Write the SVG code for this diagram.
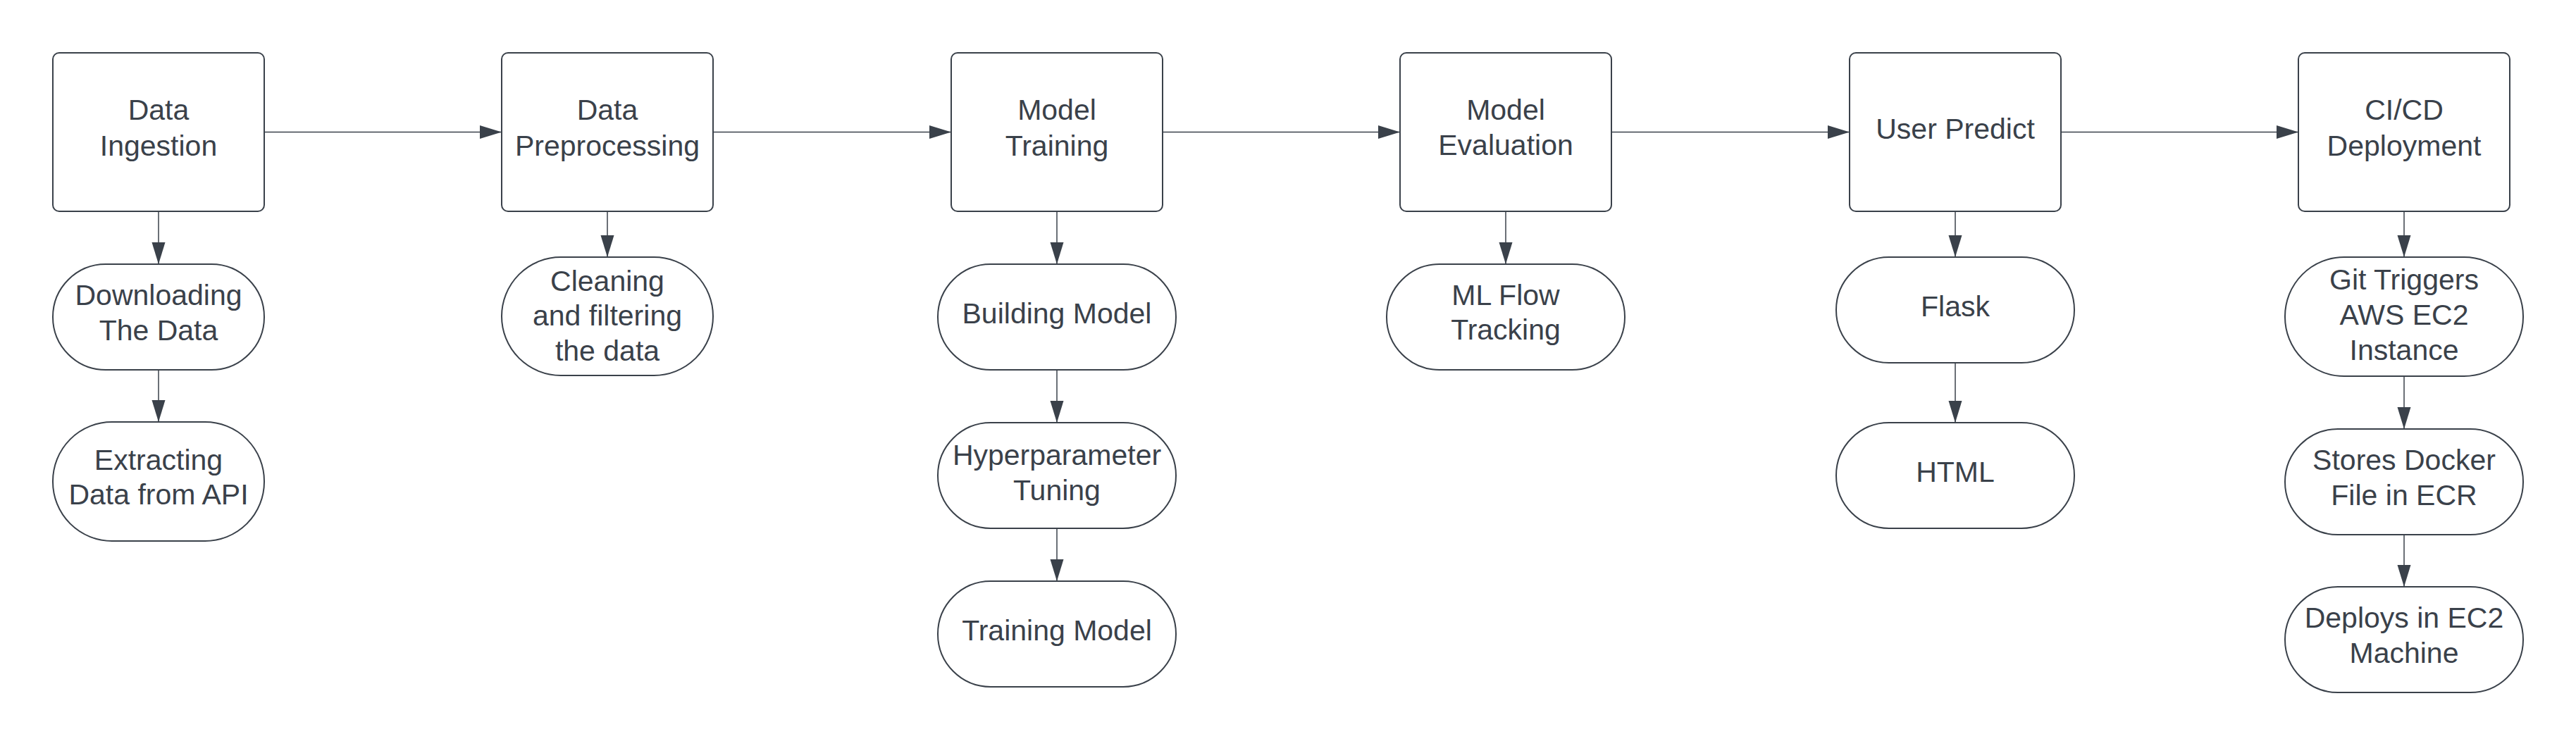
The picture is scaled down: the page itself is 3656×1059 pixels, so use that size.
<svg xmlns="http://www.w3.org/2000/svg" width="3656" height="1059" viewBox="0 0 3656 1059">
<style>
.box{fill:#ffffff;stroke:#3a414a;stroke-width:2}
.pill{fill:#ffffff;stroke:#3a414a;stroke-width:2}
.t{font-family:"Liberation Sans",Arial,sans-serif;font-size:41px;fill:#3a414a;text-anchor:middle}
.c{stroke:#3a414a;stroke-width:1.5;fill:none;marker-end:url(#ah)}
</style>
<defs>
<marker id="ah" markerUnits="userSpaceOnUse" markerWidth="32" markerHeight="20" refX="31" refY="9.5" orient="auto">
<path d="M0,0 L31,9.5 L0,19 Z" fill="#3a414a"/>
</marker>
</defs>
<rect width="3656" height="1059" fill="#ffffff"/>
<g id="connectors">
<line class="c" x1="375" y1="187.5" x2="712" y2="187.5"/>
<line class="c" x1="1012" y1="187.5" x2="1350" y2="187.5"/>
<line class="c" x1="1650" y1="187.5" x2="1987" y2="187.5"/>
<line class="c" x1="2287" y1="187.5" x2="2625" y2="187.5"/>
<line class="c" x1="2925" y1="187.5" x2="3262" y2="187.5"/>
<line class="c" x1="225" y1="300" x2="225" y2="375"/>
<line class="c" x1="225" y1="525" x2="225" y2="599"/>
<line class="c" x1="862" y1="300" x2="862" y2="365"/>
<line class="c" x1="1500" y1="300" x2="1500" y2="375"/>
<line class="c" x1="1500" y1="525" x2="1500" y2="600"/>
<line class="c" x1="1500" y1="750" x2="1500" y2="825"/>
<line class="c" x1="2137" y1="300" x2="2137" y2="375"/>
<line class="c" x1="2775" y1="300" x2="2775" y2="365"/>
<line class="c" x1="2775" y1="515" x2="2775" y2="600"/>
<line class="c" x1="3412" y1="300" x2="3412" y2="365"/>
<line class="c" x1="3412" y1="534" x2="3412" y2="609"/>
<line class="c" x1="3412" y1="759" x2="3412" y2="833"/>
</g>
<g id="data-ingestion">
<rect class="box" x="75" y="75" width="300" height="225" rx="9"/>
<text class="t" x="225" y="170">Data</text>
<text class="t" x="225" y="221">Ingestion</text>
</g>
<g id="downloading">
<rect class="pill" x="75" y="375" width="300" height="150" rx="75"/>
<text class="t" x="225" y="433">Downloading</text>
<text class="t" x="225" y="483">The Data</text>
</g>
<g id="extracting">
<rect class="pill" x="75" y="599" width="300" height="169" rx="84"/>
<text class="t" x="225" y="667">Extracting</text>
<text class="t" x="225" y="716">Data from API</text>
</g>
<g id="data-preprocessing">
<rect class="box" x="712" y="75" width="300" height="225" rx="9"/>
<text class="t" x="862" y="170">Data</text>
<text class="t" x="862" y="221">Preprocessing</text>
</g>
<g id="cleaning">
<rect class="pill" x="712" y="365" width="300" height="168" rx="84"/>
<text class="t" x="862" y="413">Cleaning</text>
<text class="t" x="862" y="462">and filtering</text>
<text class="t" x="862" y="512">the data</text>
</g>
<g id="model-training">
<rect class="box" x="1350" y="75" width="300" height="225" rx="9"/>
<text class="t" x="1500" y="170">Model</text>
<text class="t" x="1500" y="221">Training</text>
</g>
<g id="building-model">
<rect class="pill" x="1331" y="375" width="338" height="150" rx="75"/>
<text class="t" x="1500" y="459">Building Model</text>
</g>
<g id="hyperparameter-tuning">
<rect class="pill" x="1331" y="600" width="338" height="150" rx="75"/>
<text class="t" x="1500" y="660">Hyperparameter</text>
<text class="t" x="1500" y="710">Tuning</text>
</g>
<g id="training-model">
<rect class="pill" x="1331" y="825" width="338" height="150" rx="75"/>
<text class="t" x="1500" y="909">Training Model</text>
</g>
<g id="model-evaluation">
<rect class="box" x="1987" y="75" width="300" height="225" rx="9"/>
<text class="t" x="2137" y="170">Model</text>
<text class="t" x="2137" y="220">Evaluation</text>
</g>
<g id="ml-flow-tracking">
<rect class="pill" x="1968" y="375" width="338" height="150" rx="75"/>
<text class="t" x="2137" y="433">ML Flow</text>
<text class="t" x="2137" y="482">Tracking</text>
</g>
<g id="user-predict">
<rect class="box" x="2625" y="75" width="300" height="225" rx="9"/>
<text class="t" x="2775" y="197">User Predict</text>
</g>
<g id="flask">
<rect class="pill" x="2606" y="365" width="338" height="150" rx="75"/>
<text class="t" x="2775" y="449">Flask</text>
</g>
<g id="html">
<rect class="pill" x="2606" y="600" width="338" height="150" rx="75"/>
<text class="t" x="2775" y="684">HTML</text>
</g>
<g id="cicd-deployment">
<rect class="box" x="3262" y="75" width="300" height="225" rx="9"/>
<text class="t" x="3412" y="170">CI/CD</text>
<text class="t" x="3412" y="221">Deployment</text>
</g>
<g id="git-triggers">
<rect class="pill" x="3243" y="365" width="338" height="169" rx="84"/>
<text class="t" x="3412" y="411">Git Triggers</text>
<text class="t" x="3412" y="461">AWS EC2</text>
<text class="t" x="3412" y="511">Instance</text>
</g>
<g id="stores-docker">
<rect class="pill" x="3243" y="609" width="338" height="150" rx="75"/>
<text class="t" x="3412" y="667">Stores Docker</text>
<text class="t" x="3412" y="717">File in ECR</text>
</g>
<g id="deploys-ec2">
<rect class="pill" x="3243" y="833" width="338" height="150" rx="75"/>
<text class="t" x="3412" y="891">Deploys in EC2</text>
<text class="t" x="3412" y="941">Machine</text>
</g>
</svg>
